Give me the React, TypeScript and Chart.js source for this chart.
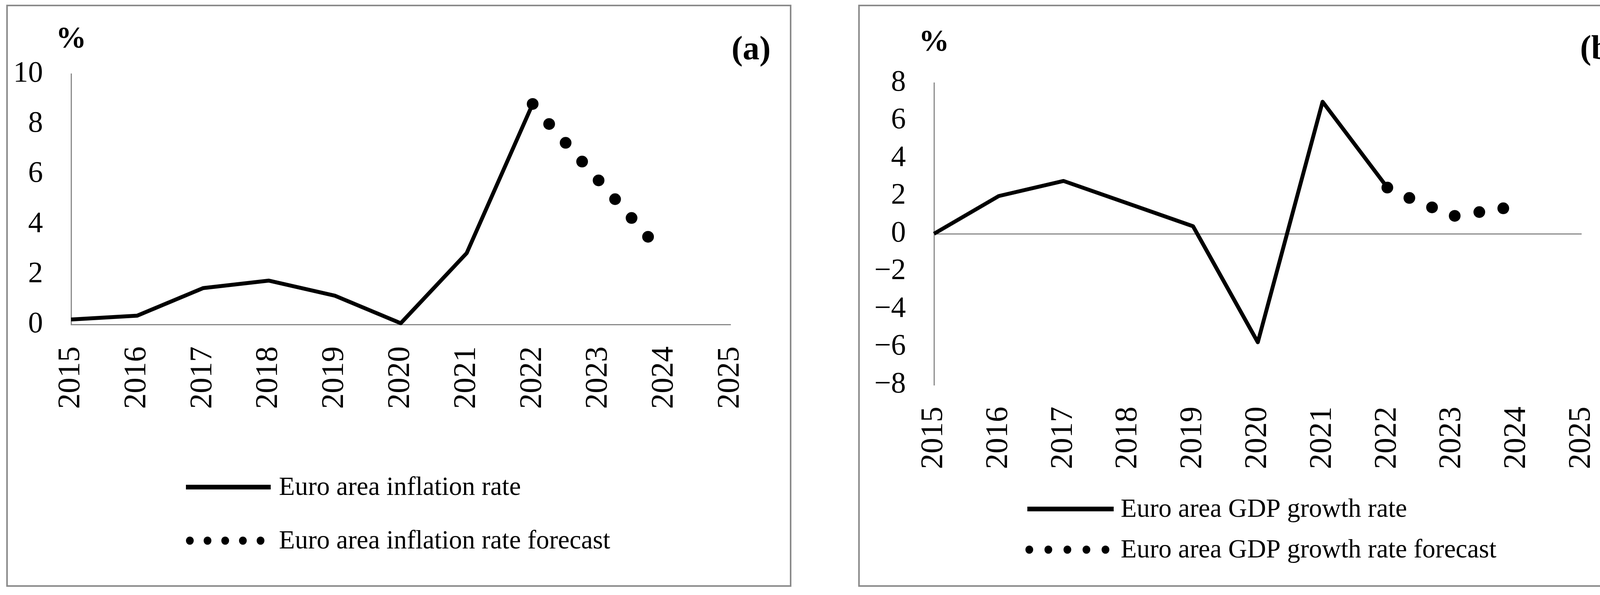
import React, { useEffect, useRef } from 'react';
import { Chart, registerables } from 'chart.js';

Chart.register(...registerables);

// ---------- data ----------
const years = [2015, 2016, 2017, 2018, 2019, 2020, 2021, 2022];
const yearTickLabels = ['2015', '2016', '2017', '2018', '2019', '2020', '2021', '2022', '2023', '2024', '2025'];

const inflationRate = [0.2, 0.35, 1.45, 1.75, 1.15, 0.05, 2.85, 8.8];
const inflationForecastX = [2022, 2022.25, 2022.5, 2022.75, 2023, 2023.25, 2023.5, 2023.75];
const inflationForecast = [8.8, 8.0, 7.25, 6.5, 5.75, 5.0, 4.25, 3.5];

const gdpRate = [0, 2.0, 2.8, 1.6, 0.4, -5.75, 7.0, 2.45];
const gdpForecastX = [2022, 2022.34, 2022.69, 2023.04, 2023.42, 2023.79];
const gdpForecast = [2.45, 1.9, 1.4, 0.95, 1.15, 1.35];

const inflationLabels = ['Euro area inflation rate', 'Euro area inflation rate forecast'];
const gdpLabels = ['Euro area GDP growth rate', 'Euro area GDP growth rate forecast'];

const FAMILY = '"Liberation Serif", "Times New Roman", serif';
const GRAY = '#8a8a8a';

type PanelSpec = {
  tag: string;
  w: number;
  h: number;
  area: { left: number; right: number; top: number; bottom: number };
  yMin: number;
  yMax: number;
  actual: number[];
  fx: number[];
  fy: number[];
  labels: string[];
  zeroLine: boolean;
  percentY: number;
  tagX: number;
  tagY: number;
  legend: { lineX0: number; lineLen: number; dotX0: number; dotX1: number; textX: number; ys: number[] };
};

function overlayPlugin(spec: PanelSpec) {
  return {
    id: 'overlay' + spec.tag,
    afterDraw(chart: any) {
      const { ctx, chartArea } = chart;
      ctx.save();
      ctx.fillStyle = '#000';
      ctx.strokeStyle = '#000';
      ctx.textBaseline = 'middle';
      // "%" unit label above the y axis
      ctx.font = `bold 78px ${FAMILY}`;
      ctx.textAlign = 'center';
      ctx.fillText('%', chartArea.left, spec.percentY);
      // panel tag
      ctx.font = `bold 86px ${FAMILY}`;
      ctx.textAlign = 'right';
      ctx.fillText(spec.tag, spec.tagX, spec.tagY);
      // legend
      const L = spec.legend;
      ctx.font = `67px ${FAMILY}`;
      ctx.textAlign = 'left';
      chart.data.datasets.forEach((ds: any, i: number) => {
        const y = L.ys[i];
        if (i === 0) {
          ctx.lineWidth = 12;
          ctx.lineCap = 'butt';
          ctx.beginPath();
          ctx.moveTo(L.lineX0, y);
          ctx.lineTo(L.lineX0 + L.lineLen, y);
          ctx.stroke();
        } else {
          const r = 10;
          const n = 5;
          const step = (L.dotX1 - L.dotX0 - 2 * r) / (n - 1);
          for (let k = 0; k < n; k++) {
            ctx.beginPath();
            ctx.ellipse(L.dotX0 + r + k * step, y, r, r * 1.05, 0, 0, Math.PI * 2);
            ctx.fill();
          }
        }
        ctx.fillText(ds.label, L.textX, y + 2);
      });
      ctx.restore();
    },
  };
}

function buildConfig(spec: PanelSpec): any {
  const xAxisHeight = 300;
  const actualPts = years.map((x, i) => ({ x, y: spec.actual[i] }));
  const fcPts = spec.fx.map((x, i) => ({ x, y: spec.fy[i] }));
  return {
    type: 'line',
    data: {
      datasets: [
        {
          label: spec.labels[0],
          data: actualPts,
          borderColor: '#000',
          backgroundColor: '#000',
          borderWidth: 10,
          pointRadius: 0,
          tension: 0,
          borderJoinStyle: 'round',
          clip: false,
        },
        {
          label: spec.labels[1],
          data: fcPts,
          showLine: false,
          borderColor: '#000',
          backgroundColor: '#000',
          pointBackgroundColor: '#000',
          pointBorderWidth: 0,
          pointRadius: 15,
          clip: false,
        },
      ],
    },
    options: {
      responsive: false,
      animation: false,
      devicePixelRatio: 1,
      layout: {
        padding: {
          left: 0,
          top: spec.area.top,
          right: spec.w - spec.area.right,
          bottom: spec.h - spec.area.bottom - xAxisHeight,
        },
      },
      plugins: {
        legend: { display: false },
        title: { display: false },
        tooltip: { enabled: false },
      },
      scales: {
        x: {
          type: 'linear',
          position: 'bottom',
          min: 2015,
          max: 2025,
          afterFit: (s: any) => {
            s.height = xAxisHeight;
          },
          grid: { display: true, color: 'rgba(0,0,0,0)', drawTicks: false },
          border: { display: !spec.zeroLine, color: GRAY, width: 3 },
          ticks: {
            stepSize: 1,
            autoSkip: false,
            minRotation: 90,
            maxRotation: 90,
            padding: 56,
            color: '#000',
            font: { family: FAMILY, size: 80 },
            callback: (v: number) => yearTickLabels[Math.round(v) - 2015] ?? '',
          },
        },
        y: {
          type: 'linear',
          min: spec.yMin,
          max: spec.yMax,
          afterFit: (s: any) => {
            s.width = spec.area.left;
          },
          grid: {
            display: true,
            drawTicks: false,
            lineWidth: 3,
            color: (c: any) => (spec.zeroLine && c.tick && c.tick.value === 0 ? GRAY : 'rgba(0,0,0,0)'),
          },
          border: { display: true, color: GRAY, width: 3 },
          ticks: {
            stepSize: 2,
            padding: 72,
            color: '#000',
            font: { family: FAMILY, size: 76 },
            callback: (v: number) => (v < 0 ? '\u2212' + Math.abs(v) : String(v)),
          },
        },
      },
    },
    plugins: [overlayPlugin(spec)],
  };
}

const panelA: PanelSpec = {
  tag: '(a)',
  w: 2002,
  h: 1481,
  area: { left: 162, right: 1861, top: 173, bottom: 814 },
  yMin: 0,
  yMax: 10,
  actual: inflationRate,
  fx: inflationForecastX,
  fy: inflationForecast,
  labels: inflationLabels,
  zeroLine: false,
  percentY: 86,
  tagX: 1953,
  tagY: 114,
  legend: { lineX0: 456, lineLen: 217, dotX0: 456, dotX1: 657, textX: 694, ys: [1230, 1367] },
};

const panelB: PanelSpec = {
  tag: '(b)',
  w: 2000,
  h: 1481,
  area: { left: 190, right: 1880, top: 196, bottom: 968 },
  yMin: -8,
  yMax: 8,
  actual: gdpRate,
  fx: gdpForecastX,
  fy: gdpForecast,
  labels: gdpLabels,
  zeroLine: true,
  percentY: 94,
  tagX: 1949,
  tagY: 112,
  legend: { lineX0: 429, lineLen: 221, dotX0: 424, dotX1: 639, textX: 668, ys: [1286, 1390] },
};

function Panel({ spec, left, top }: { spec: PanelSpec; left: number; top: number }) {
  const ref = useRef<HTMLCanvasElement>(null);
  useEffect(() => {
    if (!ref.current) return;
    const chart = new Chart(ref.current, buildConfig(spec));
    return () => chart.destroy();
  }, [spec]);
  return (
    <div
      style={{
        position: 'absolute',
        left,
        top,
        width: spec.w + 8,
        height: spec.h + 8,
        boxSizing: 'border-box',
        border: `4px solid ${GRAY}`,
        background: '#fff',
      }}
    >
      <canvas ref={ref} width={spec.w} height={spec.h} style={{ display: 'block', width: spec.w, height: spec.h }} />
    </div>
  );
}

export default function App() {
  return (
    <div style={{ position: 'absolute', left: 0, top: 0, width: 4224, height: 1522, background: '#fff', overflow: 'hidden' }}>
      <Panel spec={panelA} left={16} top={12} />
      <Panel spec={panelB} left={2197} top={12} />
    </div>
  );
}
